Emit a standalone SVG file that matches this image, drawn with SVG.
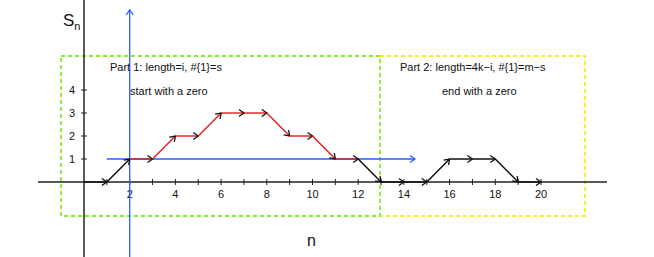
<svg xmlns="http://www.w3.org/2000/svg" width="654" height="257" viewBox="0 0 654 257">
<style>
text{font-family:"Liberation Sans",Arial,sans-serif;fill:#111}
.tk{font-size:11px;text-anchor:middle}
.lbl{font-size:11px}
.ax{stroke:#222;stroke-width:1.5;fill:none}
.tick{stroke:#222;stroke-width:1}
.blk{stroke:#111;stroke-width:1.5;fill:none;marker-end:url(#ch)}
.red{stroke:#e31a1c;stroke-width:1.4;fill:none;marker-end:url(#ch)}
.blue{stroke:#2a5cff;stroke-width:1.3;fill:none;marker-end:url(#bch)}
.g{stroke:#80f020;stroke-width:1.8;fill:none;stroke-dasharray:4 3}
.y{stroke:#f2f21c;stroke-width:1.8;fill:none;stroke-dasharray:4 3}
</style>
<defs>
<marker id="ch" viewBox="-8 -5 10 10" markerWidth="10" markerHeight="10" refX="0" refY="0" orient="auto" markerUnits="userSpaceOnUse">
<path d="M-5,-3.5 L0,0 L-5,3.5" fill="none" stroke="#111" stroke-width="1.3"/>
</marker>
<marker id="bch" viewBox="-8 -5 10 10" markerWidth="10" markerHeight="10" refX="0" refY="0" orient="auto" markerUnits="userSpaceOnUse">
<path d="M-5,-3.5 L0,0 L-5,3.5" fill="none" stroke="#2a5cff" stroke-width="1.3"/>
</marker>
</defs>
<rect width="654" height="257" fill="#fff"/>
<g id="boxes">
<path class="y" d="M380,56 H585 V216 H380"/>
<rect class="g" x="61" y="56" width="319" height="160"/>
</g>
<g id="axes">
<line class="ax" x1="84" y1="0" x2="84" y2="257"/>
<line class="ax" x1="38" y1="182" x2="607" y2="182"/>
<g class="tick">
<path d="M106.85,179V185M129.7,179V185M152.55,179V185M175.4,179V185M198.25,179V185M221.1,179V185M243.95,179V185M266.8,179V185M289.65,179V185M312.5,179V185M335.35,179V185M358.2,179V185M381.05,179V185M403.9,179V185M426.75,179V185M449.6,179V185M472.45,179V185M495.3,179V185M518.15,179V185M541,179V185"/>
<path d="M81,159H87M81,136H87M81,113H87M81,90H87"/>
</g>
<text class="tk" x="129.7" y="198">2</text>
<text class="tk" x="175.4" y="198">4</text>
<text class="tk" x="221.1" y="198">6</text>
<text class="tk" x="266.8" y="198">8</text>
<text class="tk" x="312.5" y="198">10</text>
<text class="tk" x="358.2" y="198">12</text>
<text class="tk" x="403.9" y="198">14</text>
<text class="tk" x="449.6" y="198">16</text>
<text class="tk" x="495.3" y="198">18</text>
<text class="tk" x="541" y="198">20</text>
<text class="tk" x="72" y="163">1</text>
<text class="tk" x="72" y="140">2</text>
<text class="tk" x="72" y="117">3</text>
<text class="tk" x="72" y="94">4</text>
<text x="63" y="26" font-size="17">S<tspan font-size="11" dy="4">n</tspan></text>
<text x="307" y="246" font-size="16">n</text>
</g>
<g id="blue-lines">
<line class="blue" x1="129.7" y1="257" x2="129.7" y2="10"/>
<line class="blue" x1="106.85" y1="159" x2="415" y2="159"/>
</g>
<g id="connectors">
<line class="blk" x1="84" y1="182" x2="106.85" y2="182"/>
<line class="blk" x1="106.85" y1="182" x2="129.7" y2="159"/>
<line class="red" x1="129.7" y1="159" x2="152.55" y2="159"/>
<line class="red" x1="152.55" y1="159" x2="175.4" y2="136"/>
<line class="red" x1="175.4" y1="136" x2="198.25" y2="136"/>
<line class="red" x1="198.25" y1="136" x2="221.1" y2="113"/>
<line class="red" x1="221.1" y1="113" x2="243.95" y2="113"/>
<line class="red" x1="243.95" y1="113" x2="266.8" y2="113"/>
<line class="red" x1="266.8" y1="113" x2="289.65" y2="136"/>
<line class="red" x1="289.65" y1="136" x2="312.5" y2="136"/>
<line class="red" x1="312.5" y1="136" x2="335.35" y2="159"/>
<line class="red" x1="335.35" y1="159" x2="358.2" y2="159"/>
<line class="blk" x1="358.2" y1="159" x2="381.05" y2="182"/>
<line class="blk" x1="381.05" y1="182" x2="403.9" y2="182"/>
<line class="blk" x1="403.9" y1="182" x2="426.75" y2="182"/>
<line class="blk" x1="426.75" y1="182" x2="449.6" y2="159"/>
<line class="blk" x1="449.6" y1="159" x2="472.45" y2="159"/>
<line class="blk" x1="472.45" y1="159" x2="495.3" y2="159"/>
<line class="blk" x1="495.3" y1="159" x2="518.15" y2="182"/>
<line class="blk" x1="518.15" y1="182" x2="541" y2="182"/>
</g>
<g id="labels">
<text class="lbl" x="110" y="71">Part 1: length=i, #{1}=s</text>
<text class="lbl" x="130" y="95">start with a zero</text>
<text class="lbl" x="400" y="71">Part 2: length=4k−i, #{1}=m−s</text>
<text class="lbl" x="442" y="95">end with a zero</text>
</g>
</svg>
